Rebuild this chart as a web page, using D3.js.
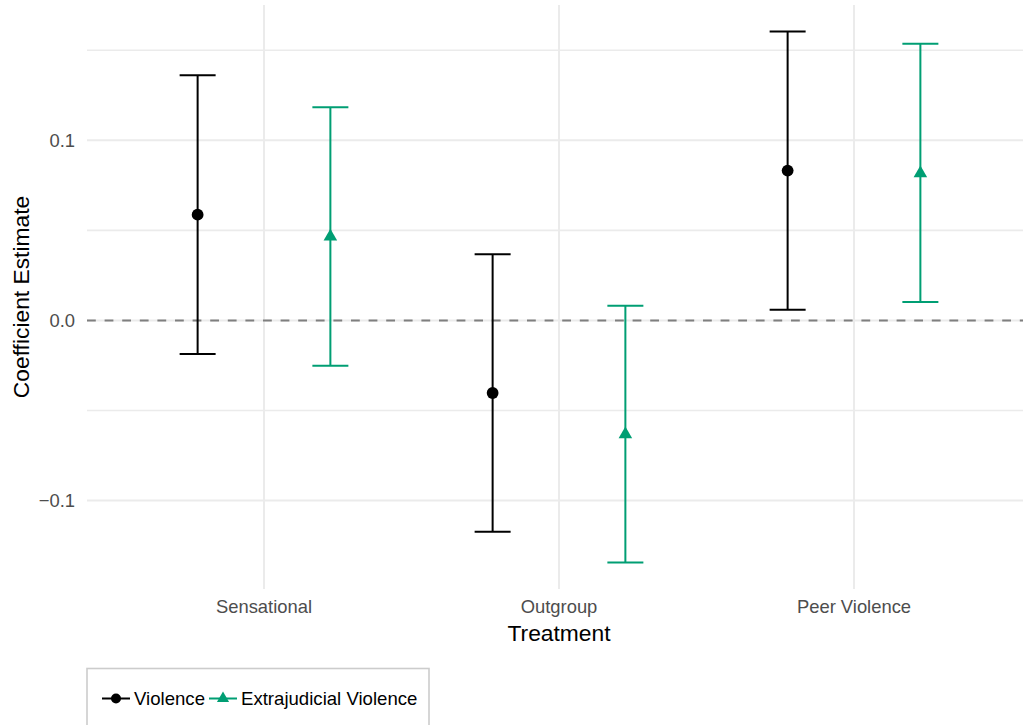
<!DOCTYPE html>
<html>
<head>
<meta charset="utf-8">
<script src="https://cdn.jsdelivr.net/npm/d3@7"></script>
<style>
  html, body { margin: 0; padding: 0; background: #ffffff; }
  svg { display: block; font-family: "Liberation Sans", Arial, Helvetica, sans-serif; }
</style>
</head>
<body>
<svg id="chart" width="1023" height="725"></svg>
<script>
// ---- data ----
const categories = ["Sensational", "Outgroup", "Peer Violence"];
const seriesNames = ["Violence", "Extrajudicial Violence"];
const violenceEst  = [0.0587, -0.0403, 0.0832];
const violenceLow  = [-0.0187, -0.1174, 0.0059];
const violenceHigh = [0.1361, 0.0367, 0.1604];
const extraEst  = [0.0465, -0.0632, 0.0817];
const extraLow  = [-0.0252, -0.1344, 0.0102];
const extraHigh = [0.1184, 0.0082, 0.1536];
const yTickValues = [-0.1, 0.0, 0.1];
const yTickLabels = ["\u22120.1", "0.0", "0.1"];
const yMinorValues = [-0.05, 0.05, 0.15];
const xTitle = "Treatment";
const yTitle = "Coefficient Estimate";

const rows = [];
categories.forEach((c, i) => {
  rows.push({cat: c, series: seriesNames[0], est: violenceEst[i], lo: violenceLow[i], hi: violenceHigh[i]});
  rows.push({cat: c, series: seriesNames[1], est: extraEst[i], lo: extraLow[i], hi: extraHigh[i]});
});

// ---- layout ----
const panel = {left: 87, right: 1031, top: 5, bottom: 589};
const colors = d3.scaleOrdinal().domain(seriesNames).range(["#000000", "#009E73"]);

const svg = d3.select("#chart");

const x = d3.scalePoint().domain(categories).range([panel.left, panel.right]).padding(0.6);
const dodge = d3.scalePoint().domain(seriesNames).range([-0.225, 0.225]);

const allVals = rows.flatMap(d => [d.lo, d.hi]);
const ext = d3.extent(allVals);
const pad = (ext[1] - ext[0]) * 0.05;
const y = d3.scaleLinear().domain([ext[0] - pad, ext[1] + pad]).range([panel.bottom, panel.top]);

const gridColor = "#ebebeb";
const g = svg.append("g");

// minor gridlines
g.selectAll("line.minor").data(yMinorValues).join("line")
  .attr("x1", panel.left).attr("x2", 1023)
  .attr("y1", d => y(d)).attr("y2", d => y(d))
  .attr("stroke", gridColor).attr("stroke-width", 1.6);
// major gridlines
g.selectAll("line.majory").data(yTickValues).join("line")
  .attr("x1", panel.left).attr("x2", 1023)
  .attr("y1", d => y(d)).attr("y2", d => y(d))
  .attr("stroke", gridColor).attr("stroke-width", 2);
g.selectAll("line.majorx").data(categories).join("line")
  .attr("x1", d => x(d)).attr("x2", d => x(d))
  .attr("y1", panel.top).attr("y2", panel.bottom)
  .attr("stroke", gridColor).attr("stroke-width", 2);

// zero reference line
g.append("line")
  .attr("x1", panel.left).attr("x2", 1023)
  .attr("y1", y(0)).attr("y2", y(0))
  .attr("stroke", "#7f7f7f").attr("stroke-width", 2)
  .attr("stroke-dasharray", "8.8,8.8");

const step = x.step();
const px = d => x(d.cat) + dodge(d.series) * step;
const capHalf = 18;

// error bars
const eb = g.selectAll("g.eb").data(rows).join("g")
  .attr("stroke", d => colors(d.series)).attr("stroke-width", 2).attr("fill", "none");
eb.append("line").attr("x1", px).attr("x2", px).attr("y1", d => y(d.lo)).attr("y2", d => y(d.hi));
eb.append("line").attr("x1", d => px(d) - capHalf).attr("x2", d => px(d) + capHalf).attr("y1", d => y(d.lo)).attr("y2", d => y(d.lo));
eb.append("line").attr("x1", d => px(d) - capHalf).attr("x2", d => px(d) + capHalf).attr("y1", d => y(d.hi)).attr("y2", d => y(d.hi));

// points
const shapes = d3.scaleOrdinal().domain(seriesNames).range([d3.symbolCircle, d3.symbolTriangle]);
const sizes = d3.scaleOrdinal().domain(seriesNames).range([Math.PI * 5.9 * 5.9, 80]);
g.selectAll("path.pt").data(rows).join("path")
  .attr("transform", d => `translate(${px(d)},${y(d.est)})`)
  .attr("d", d => d3.symbol().type(shapes(d.series)).size(sizes(d.series))())
  .attr("fill", d => colors(d.series));

// axis labels
g.selectAll("text.xt").data(categories).join("text")
  .attr("x", d => x(d)).attr("y", 613)
  .attr("text-anchor", "middle").attr("font-size", 18.4).attr("fill", "#4d4d4d")
  .text(d => d);
g.selectAll("text.yt").data(yTickValues).join("text")
  .attr("x", 75).attr("y", d => y(d)).attr("dy", "0.35em")
  .attr("text-anchor", "end").attr("font-size", 18.4).attr("fill", "#4d4d4d")
  .text((d, i) => yTickLabels[i]);

// titles
svg.append("text").attr("x", (panel.left + panel.right) / 2).attr("y", 641)
  .attr("text-anchor", "middle").attr("font-size", 22.8).attr("fill", "#000")
  .text(xTitle);
svg.append("text")
  .attr("transform", `translate(29,${(panel.top + panel.bottom) / 2}) rotate(-90)`)
  .attr("text-anchor", "middle").attr("font-size", 22.8).attr("fill", "#000")
  .text(yTitle);

// legend
const leg = svg.append("g");
leg.append("rect").attr("x", 87).attr("y", 668.5).attr("width", 342).attr("height", 62)
  .attr("fill", "#fff").attr("stroke", "#cccccc").attr("stroke-width", 1.6);
const legY = 698.5;
const legItems = [
  {name: seriesNames[0], x0: 102, tx: 134},
  {name: seriesNames[1], x0: 209, tx: 241}
];
legItems.forEach(it => {
  leg.append("line").attr("x1", it.x0).attr("x2", it.x0 + 28).attr("y1", legY).attr("y2", legY)
    .attr("stroke", colors(it.name)).attr("stroke-width", 2);
  leg.append("path").attr("transform", `translate(${it.x0 + 14},${legY})`)
    .attr("d", d3.symbol().type(shapes(it.name)).size(it.name === seriesNames[0] ? Math.PI * 25 : 64)())
    .attr("fill", colors(it.name));
  leg.append("text").attr("x", it.tx).attr("y", legY).attr("dy", "0.35em")
    .attr("font-size", 18.6).attr("fill", "#000").text(it.name);
});
</script>
</body>
</html>
